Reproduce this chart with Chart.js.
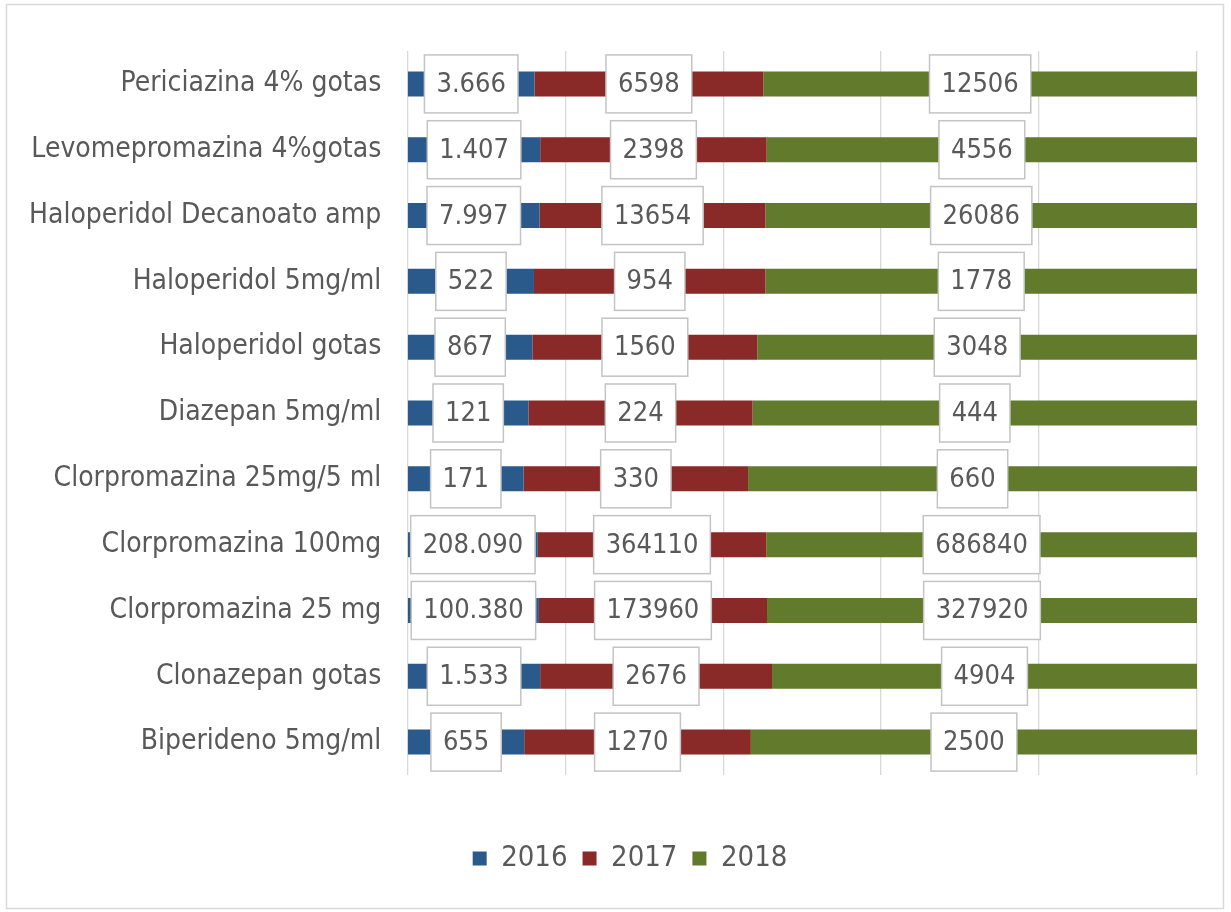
<!DOCTYPE html>
<html>
<head>
<meta charset="utf-8">
<script src="https://cdn.jsdelivr.net/npm/chart.js@4.4.0/dist/chart.umd.min.js"></script>
<style>
  body { margin: 0; background: #fff; }
  #wrap { position: relative; width: 1231px; height: 912px; }
</style>
</head>
<body>
<div id="wrap"><canvas id="medChart" width="1231" height="912"></canvas></div>
<script>
const categories = [
  "Periciazina 4% gotas",
  "Levomepromazina 4%gotas",
  "Haloperidol Decanoato amp",
  "Haloperidol 5mg/ml",
  "Haloperidol gotas",
  "Diazepan 5mg/ml",
  "Clorpromazina 25mg/5 ml",
  "Clorpromazina 100mg",
  "Clorpromazina 25 mg",
  "Clonazepan gotas",
  "Biperideno 5mg/ml"
];
const years = ["2016", "2017", "2018"];
const values2016 = [3666, 1407, 7997, 522, 867, 121, 171, 208090, 100380, 1533, 655];
const values2017 = [6598, 2398, 13654, 954, 1560, 224, 330, 364110, 173960, 2676, 1270];
const values2018 = [12506, 4556, 26086, 1778, 3048, 444, 660, 686840, 327920, 4904, 2500];

const FONT = "'Liberation Sans Narrow', 'DejaVu Sans Condensed', sans-serif";
const colors = ["#2a5a8b", "#8a2a28", "#617a2c"];

const raw = [values2016, values2017, values2018];
const totals = categories.map((_, i) => values2016[i] + values2017[i] + values2018[i]);

function fmt(v, ds) {
  // 2016 labels were typed with a thousands dot
  if (ds === 0) return v.toLocaleString("de-DE");
  return String(v);
}

const boxLabels = {
  id: "boxLabels",
  afterDatasetsDraw(chart) {
    const ctx = chart.ctx;
    ctx.save();
    ctx.font = "27px " + FONT;
    ctx.textAlign = "center";
    ctx.textBaseline = "middle";
    chart.data.datasets.forEach((ds, d) => {
      const meta = chart.getDatasetMeta(d);
      meta.data.forEach((bar, i) => {
        const txt = fmt(raw[d][i], d);
        const cx = (bar.x + bar.base) / 2;
        const cy = bar.y;
        const w = ctx.measureText(txt).width + 24;
        const h = 58;
        ctx.fillStyle = "#ffffff";
        ctx.fillRect(cx - w / 2, cy - h / 2, w, h);
        ctx.strokeStyle = "#c4c4c4";
        ctx.lineWidth = 1.5;
        ctx.strokeRect(cx - w / 2, cy - h / 2, w, h);
        ctx.fillStyle = "#595959";
        ctx.fillText(txt, cx, cy + 1);
      });
    });
    ctx.restore();
  }
};

const frame = {
  id: "frame",
  beforeDraw(chart) {
    const ctx = chart.ctx;
    ctx.save();
    ctx.fillStyle = "#fff";
    ctx.fillRect(0, 0, chart.width, chart.height);
    ctx.strokeStyle = "#d9d9d9";
    ctx.lineWidth = 1.5;
    ctx.strokeRect(6.5, 4.5, 1217, 904);
    ctx.restore();
  }
};

// the legend sits a little right of the canvas centre in the original
const legendShift = {
  id: "legendShift",
  afterLayout(chart) {
    chart.legend.left += 26;
    chart.legend.right += 26;
  }
};

const ctx = document.getElementById("medChart").getContext("2d");
new Chart(ctx, {
  type: "bar",
  data: {
    labels: categories,
    datasets: years.map((y, d) => ({
      label: y,
      data: raw[d].map((v, i) => v / totals[i] * 100),
      backgroundColor: colors[d],
      barPercentage: 0.5,
      categoryPercentage: 0.76
    }))
  },
  options: {
    indexAxis: "y",
    responsive: false,
    animation: false,
    layout: { padding: { top: 51, right: 34, bottom: 29, left: 11 } },
    scales: {
      x: {
        stacked: true,
        min: 0,
        max: 100,
        ticks: { display: false, stepSize: 20 },
        grid: { color: "#d9d9d9", lineWidth: 1.3, drawTicks: false },
        border: { display: false }
      },
      y: {
        stacked: true,
        ticks: { color: "#595959", font: { family: FONT, size: 28 }, padding: 18 },
        grid: { display: false },
        border: { display: false }
      }
    },
    plugins: {
      legend: {
        position: "bottom",
        title: { display: true, text: " ", font: { size: 10 }, padding: { top: 28, bottom: 14 } },
        labels: {
          color: "#595959",
          font: { family: FONT, size: 29 },
          boxWidth: 14,
          boxHeight: 14,
          padding: 15
        }
      },
      tooltip: { enabled: false }
    }
  },
  plugins: [frame, legendShift, boxLabels]
});
</script>
</body>
</html>
